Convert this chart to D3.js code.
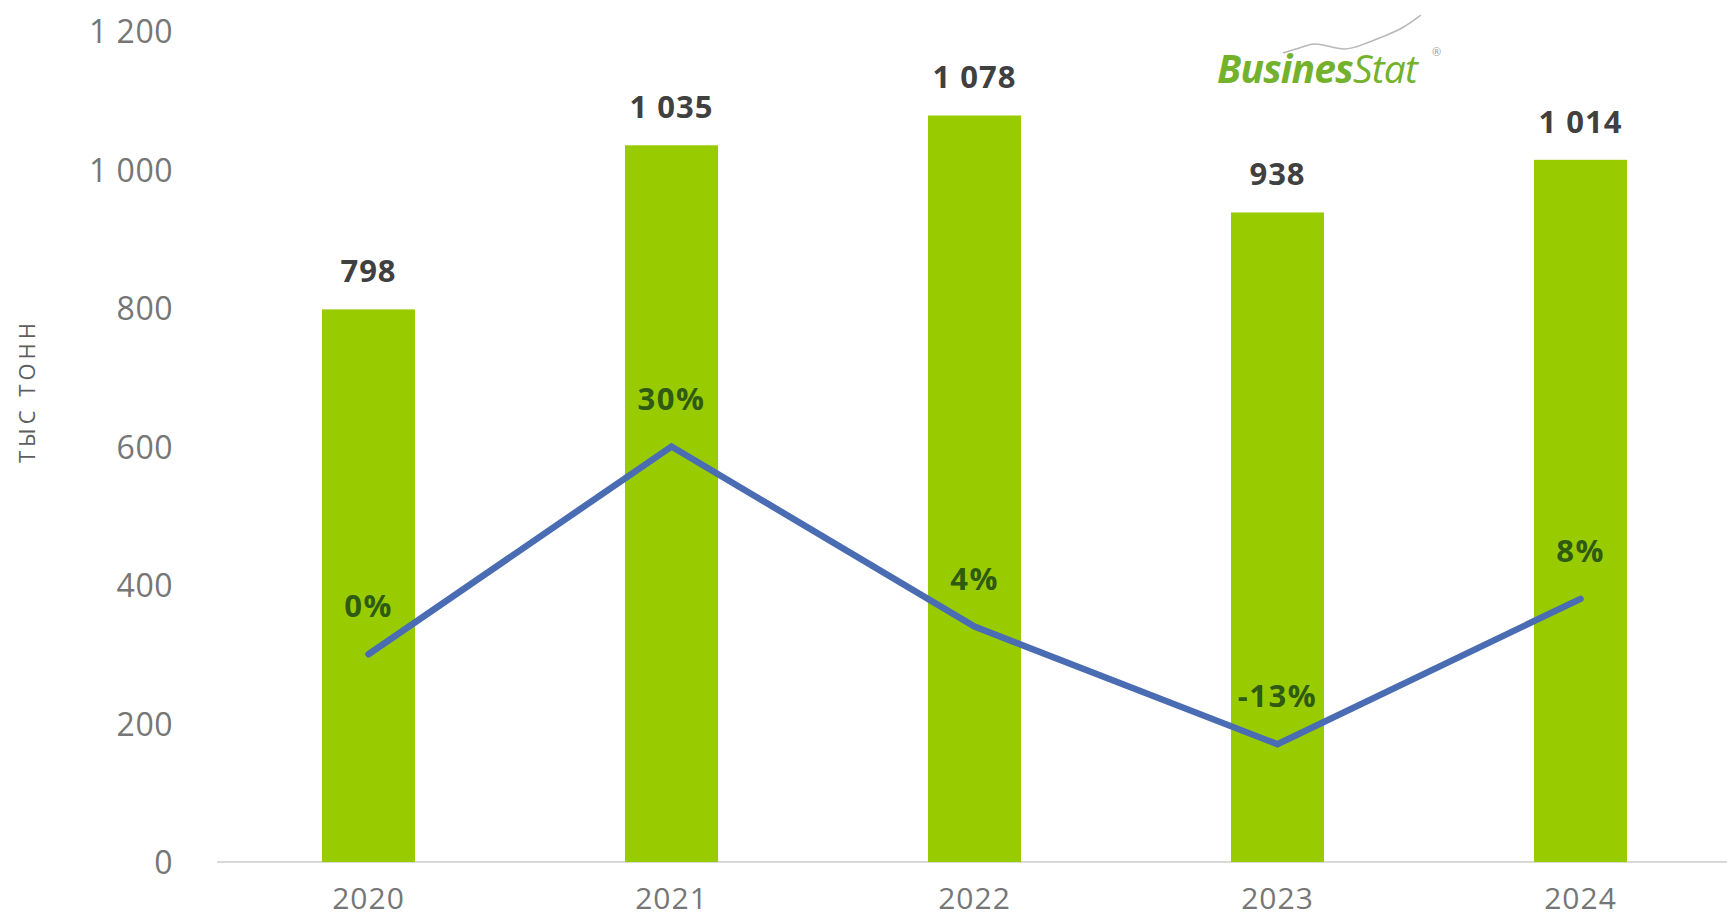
<!DOCTYPE html>
<html>
<head>
<meta charset="utf-8">
<script src="https://cdn.jsdelivr.net/npm/d3@7"></script>
<style>
  html, body { margin: 0; padding: 0; background: #ffffff; }
  svg { display: block; }
  text { font-family: "Open Sans", "Lato", sans-serif; }
</style>
</head>
<body>
<svg id="chart" width="1727" height="921"></svg>
<script>
// ---- data ----
const years = ["2020", "2021", "2022", "2023", "2024"];
const volumes = [798, 1035, 1078, 938, 1014];
const growth = [0.00, 0.30, 0.04, -0.13, 0.08];
const growthLabels = ["0%", "30%", "4%", "-13%", "8%"];
const yTicks = [0, 200, 400, 600, 800, 1000, 1200];
const yTitle = "ТЫС ТОНН";

const svg = d3.select("#chart");
const W = 1727, H = 921;

const x = d3.scaleBand()
  .domain(years)
  .range([217, 1732])
  .paddingInner(0.693)
  .paddingOuter(0.3465);

const y = d3.scaleLinear().domain([0, 1200]).range([862, 31]);
const y2 = d3.scaleLinear().domain([-0.3, 0.9]).range([862, 31]);

const fmt = v => d3.format(",")(v).replace(/,/g, "\u00a0");

// baseline
svg.append("line")
  .attr("x1", 217).attr("x2", W)
  .attr("y1", y(0)).attr("y2", y(0))
  .attr("stroke", "#d9d9d9").attr("stroke-width", 2);

// y axis tick labels
const yAxis = d3.axisLeft(y).tickValues(yTicks).tickSize(0).tickPadding(0).tickFormat(fmt);
const gy = svg.append("g").attr("transform", "translate(173,0)").call(yAxis);
gy.select(".domain").remove();
gy.selectAll("text")
  .attr("font-size", 32)
  .attr("letter-spacing", 0.5)
  .attr("fill", "#767676")
  .attr("dy", "0.36em")
  .style("font-family", "'Open Sans', sans-serif");

// x axis labels
const xAxis = d3.axisBottom(x).tickSize(0).tickPadding(0);
const gx = svg.append("g").attr("transform", "translate(0,898)").call(xAxis);
gx.select(".domain").remove();
gx.selectAll("text")
  .attr("font-size", 30)
  .attr("letter-spacing", 1)
  .attr("fill", "#767676")
  .attr("dy", "0.36em")
  .style("font-family", "'Open Sans', sans-serif");

// y title
svg.append("text")
  .attr("transform", "translate(35,391) rotate(-90)")
  .attr("text-anchor", "middle")
  .attr("font-size", 22)
  .attr("letter-spacing", 4)
  .attr("fill", "#5e5e5e")
  .text(yTitle);

// bars
svg.append("g").selectAll("rect")
  .data(years)
  .join("rect")
  .attr("x", d => x(d))
  .attr("width", x.bandwidth())
  .attr("y", (d, i) => y(volumes[i]))
  .attr("height", (d, i) => y(0) - y(volumes[i]))
  .attr("fill", "#99cc00");

// bar value labels
svg.append("g").selectAll("text")
  .data(years)
  .join("text")
  .attr("x", d => x(d) + x.bandwidth() / 2)
  .attr("y", (d, i) => y(volumes[i]) - 27)
  .attr("text-anchor", "middle")
  .attr("font-size", 31)
  .attr("font-weight", 700)
  .attr("letter-spacing", 1)
  .attr("fill", "#404040")
  .text((d, i) => fmt(volumes[i]));

// growth line
const line = d3.line()
  .x((d, i) => x(years[i]) + x.bandwidth() / 2)
  .y(d => y2(d));
svg.append("path")
  .datum(growth)
  .attr("d", line)
  .attr("fill", "none")
  .attr("stroke", "#4a6cb3")
  .attr("stroke-width", 6.5)
  .attr("stroke-linejoin", "miter")
  .attr("stroke-linecap", "round");

// growth labels
svg.append("g").selectAll("text")
  .data(growth)
  .join("text")
  .attr("x", (d, i) => x(years[i]) + x.bandwidth() / 2)
  .attr("y", d => y2(d) - 37)
  .attr("text-anchor", "middle")
  .attr("font-size", 31)
  .attr("font-weight", 700)
  .attr("letter-spacing", 1.5)
  .attr("fill", "#2f5a12")
  .text((d, i) => growthLabels[i]);

// logo
const logo = svg.append("g").attr("transform", "translate(1217,83)");
const swoosh = [[66, -30], [86, -36], [96, -40], [108, -38], [128, -32], [145, -38], [165, -46], [185, -54], [204, -68]];
logo.append("path")
  .attr("d", d3.line().curve(d3.curveBasis)(swoosh))
  .attr("fill", "none")
  .attr("stroke", "#b8b8b8")
  .attr("stroke-width", 1.5);
const lt = logo.append("text")
  .attr("font-size", 39)
  .attr("font-style", "italic")
  .attr("fill", "#74b22c")
  .attr("letter-spacing", -0.8);
lt.append("tspan").attr("font-weight", 700).text("Busines");
lt.append("tspan").attr("font-weight", 400).text("Stat");
logo.append("text")
  .attr("x", 215).attr("y", -27)
  .attr("font-size", 11)
  .attr("fill", "#9a9a9a")
  .text("®");
</script>
</body>
</html>
